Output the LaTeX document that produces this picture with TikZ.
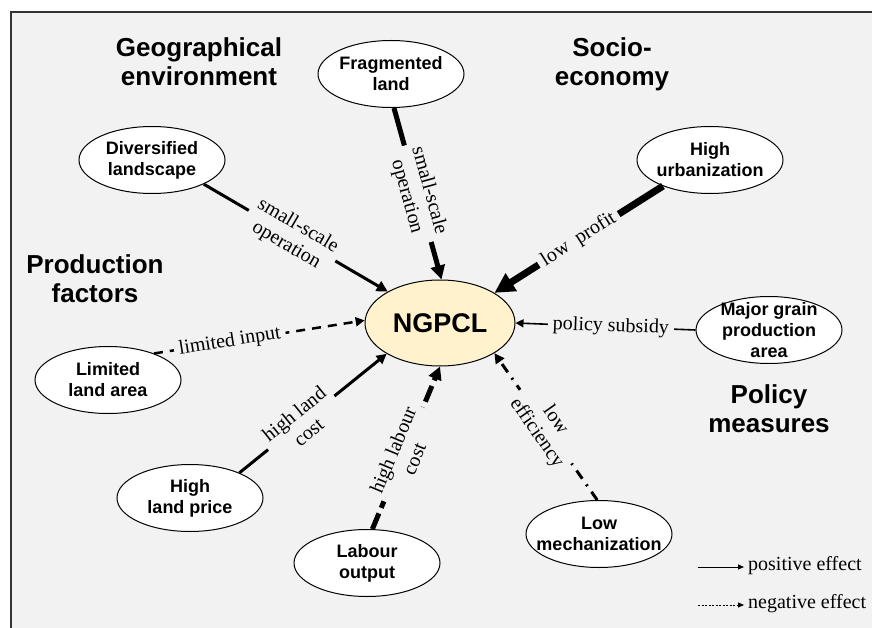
\documentclass[tikz,border=0pt]{standalone}
\usepackage{fontspec}
\setmainfont{Liberation Serif}
\setsansfont{Liberation Sans}
\usetikzlibrary{shapes.geometric,arrows.meta}
\definecolor{bg}{HTML}{F2F2F2}
\definecolor{core}{HTML}{FFF2CC}

\begin{document}
\begin{tikzpicture}[
        x=1pt, y=-1pt,
        E/.style = {ellipse, draw, fill=white, line width=1pt,% factor nodes round the core
                minimum width=146pt, minimum height=67pt, inner sep=0pt,
                label={[align=center, font=\sffamily\bfseries\fontsize{18}{21}\selectfont]center:#1}},
        N/.style = {ellipse, draw, fill=core, line width=1pt,
                minimum width=150pt, minimum height=86pt,
                font=\sffamily\bfseries\fontsize{27}{30}\selectfont},
        T/.style = {align=center, font=\sffamily\bfseries\fontsize{26}{29}\selectfont},% group titles
        L/.style = {align=center, sloped, fill=bg, inner sep=5pt,
                font=\fontsize{20}{23}\selectfont},% labels on the arrows
        A/.style = {-{Triangle[length=#1, width=#1]}},
    ]
    \useasboundingbox (0,0) rectangle (872,628);
    \fill[white] (0,0) rectangle (872,628);
    \draw[fill=bg, line width=1.6pt, draw=black!80] (11,12) rectangle (890,650);

    % core and factors
    \node[N] (ngpcl) at (440,323) {NGPCL};
    \node[E={Fragmented\\land}] (frag) at (391,74) {};
    \node[E={Diversified\\landscape}] (div) at (152,160) {};
    \node[E={High\\urbanization}] (urb) at (710,160) {};
    \node[E={Major grain\\production\\area}] (grain) at (769,330) {};
    \node[E={Limited\\land area}] (lim) at (108,380) {};
    \node[E={High\\land price}] (price) at (190,498) {};
    \node[E={Labour\\output}] (lab) at (367,563) {};
    \node[E={Low\\mechanization}] (mech) at (599,534) {};

    % group titles
    \node[T] (geo) at (199,62) {Geographical\\environment};
    \node[T] (socio) at (612,64) {Socio-\\economy};
    \node[T] (prod) at (95,279) {Production\\factors};
    \node[T] (policy) at (769,409) {Policy\\measures};

    % effects
    \draw[A=14pt, line width=5pt] (frag.-85) -- node[L, pos=.5] {small-scale\\operation} (ngpcl.88);
    \draw[A=11pt, line width=3pt] (div.-25) -- node[L, pos=.48] {small-scale\\operation} (ngpcl.149);
    \draw[A=20pt, line width=7pt] (urb.209) -- node[L, pos=.5] {low~~profit} (ngpcl.29);
    \draw[A=8pt, line width=1.6pt] (grain.180) -- node[L, pos=.47] {policy subsidy} (ngpcl.0);
    \draw[A=9pt, line width=2.5pt, dash pattern=on 9pt off 7pt] (lim.30) -- node[L, pos=.36] {limited input} (ngpcl.178);
    \draw[A=10pt, line width=3pt] (price.27) -- node[L, pos=.42] {high land\\cost} (ngpcl.210);
    \draw[A=13pt, line width=5pt, dash pattern=on 17pt off 6pt] (lab.81) -- node[L, pos=.46] {high labour\\cost} (ngpcl.270);
    \draw[A=10pt, line width=3pt, dash pattern=on 10pt off 7pt on 2pt off 7pt] (mech.93) -- node[L, pos=.5] {low\\efficiency} (ngpcl.331);

    % legend
    \coordinate (pos0) at (698,567);
    \coordinate (neg0) at (698,605);
    \node[anchor=west, inner sep=4pt, font=\fontsize{20}{22}\selectfont] (pos) at (744,566) {positive effect};
    \node[anchor=west, inner sep=4pt, font=\fontsize{20}{22}\selectfont] (neg) at (744,604) {negative effect};
    \draw[line width=0.8pt, -{Triangle[length=6pt, width=5pt]}] (pos0) -- (pos0 -| pos.west);
    \draw[line width=0.8pt, dash pattern=on 2pt off 1.5pt, -{Triangle[length=6pt, width=5pt]}] (neg0) -- (neg0 -| neg.west);
\end{tikzpicture}
\end{document}
